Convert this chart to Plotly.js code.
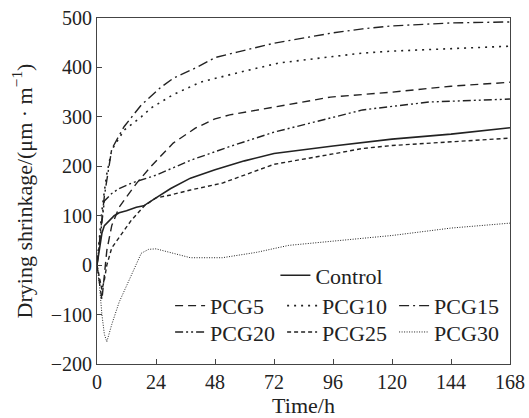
<!DOCTYPE html>
<html>
<head>
<meta charset="utf-8">
<script src="https://cdn.plot.ly/plotly-3.0.1.min.js"></script>
<style>html,body{margin:0;padding:0;background:#fff;}#chart{width:529px;height:418px;}</style>
</head>
<body>
<div id="chart"></div>
<script>
// Data
var tControl = [0,1,2,3,5,7,9,12,16,19,24,30,38,48,60,72,96,120,144,168];
var yControl = [0,35,65,80,91,100,106,110,117,120,136,155,176,193,211,226,241,255,265,278];

var tPCG5 = [0,1,2,3,4,6,9,12,16,22,31,40,48,54,72,95,120,144,168];
var yPCG5 = [0,-40,-70,-20,30,80,117,138,165,200,247,277,296,304,320,340,350,362,370];

var tPCG10 = [0,1,2,3,4,6,11,18,22,31,42,57,74,96,108,120,144,168];
var yPCG10 = [0,60,110,150,185,233,273,300,318,345,370,389,409,422,429,433,438,443];

var tPCG15 = [0,1,2,3,4,6,11,18,26,31,41,48,57,72,96,108,120,144,168];
var yPCG15 = [0,50,100,140,172,235,280,324,360,378,401,420,431,449,470,478,484,490,492];

var tPCG20 = [0,1,2,3,6,9,14,24,38,54,72,96,108,135,168];
var yPCG20 = [0,40,90,130,145,155,166,182,212,240,269,300,314,330,336];

var tPCG25 = [0,1,2,3,4,6,9,14,19.5,24,30,38,51,72,96,108,120,144,168];
var yPCG25 = [0,-25,-50,-30,0,35,57,91,121,136,142,152,166,204,225,236,242,250,257];

var tPCG30 = [0,1,2,3,4,6,9,13,18,21,24,31,38,51,65,78,96,120,144,168];
var yPCG30 = [0,-40,-100,-140,-155,-120,-75,-30,24,32,33,24,15,15,26,40,48,60,75,85];

var xTicks = [0,24,48,72,96,120,144,168];
var yTicks = [-200,-100,0,100,200,300,400,500];

var FONT = '"Liberation Serif", "Times New Roman", Times, serif';
var INK = '#222';

function tr(name, x, y, dash, width, legend) {
  return {x: x, y: y, name: name, type: 'scatter', mode: 'lines',
          line: {color: INK, width: width, dash: dash}, legend: legend};
}

var data = [
  tr('Control', tControl, yControl, 'solid', 1.6, 'legend'),
  tr('PCG5', tPCG5, yPCG5, '8px,5px', 1.4, 'legend2'),
  tr('PCG10', tPCG10, yPCG10, '2px,5px', 1.6, 'legend2'),
  tr('PCG15', tPCG15, yPCG15, '10px,4px,2px,4px', 1.4, 'legend2'),
  tr('PCG20', tPCG20, yPCG20, '8px,3px,2px,3px,2px,3px', 1.4, 'legend3'),
  tr('PCG25', tPCG25, yPCG25, '4px,3px', 1.4, 'legend3'),
  tr('PCG30', tPCG30, yPCG30, '1px,1.5px', 1.0, 'legend3')
];

var legBase = {orientation: 'h', bgcolor: 'rgba(0,0,0,0)', borderwidth: 0,
  font: {family: FONT, size: 22, color: INK}, xanchor: 'left', yanchor: 'middle',
  itemwidth: 30, entrywidth: 67, tracegroupgap: 0};

var layout = {
  width: 529, height: 418,
  margin: {l: 97, r: 19, t: 18, b: 54},
  paper_bgcolor: '#fff', plot_bgcolor: '#fff',
  font: {family: FONT, size: 20, color: INK},
  showlegend: true,
  legend: Object.assign({}, legBase, {x: 0.432, y: 0.256}),
  legend2: Object.assign({}, legBase, {x: 0.177, y: 0.168}),
  legend3: Object.assign({}, legBase, {x: 0.177, y: 0.092}),
  xaxis: {
    range: [0, 168], tickvals: xTicks, ticktext: xTicks.map(String),
    ticks: 'inside', ticklen: 5, tickcolor: '#444', showgrid: false, zeroline: false,
    showline: true, linecolor: '#444', linewidth: 1, mirror: true,
    tickfont: {family: FONT, size: 20, color: INK},
    title: {text: 'Time/h', font: {family: FONT, size: 22, color: INK}, standoff: 2}
  },
  yaxis: {
    range: [-200, 500], tickvals: yTicks,
    ticks: 'inside', ticklen: 5, tickcolor: '#444', showgrid: false, zeroline: false,
    showline: true, linecolor: '#444', linewidth: 1, mirror: true,
    tickfont: {family: FONT, size: 20, color: INK},
    title: {text: 'Drying shrinkage/(μm · m<sup>−1</sup>)', font: {family: FONT, size: 22, color: INK}, standoff: 12}
  }
};

Plotly.newPlot('chart', data, layout, {displayModeBar: false, staticPlot: true});
</script>
</body>
</html>
